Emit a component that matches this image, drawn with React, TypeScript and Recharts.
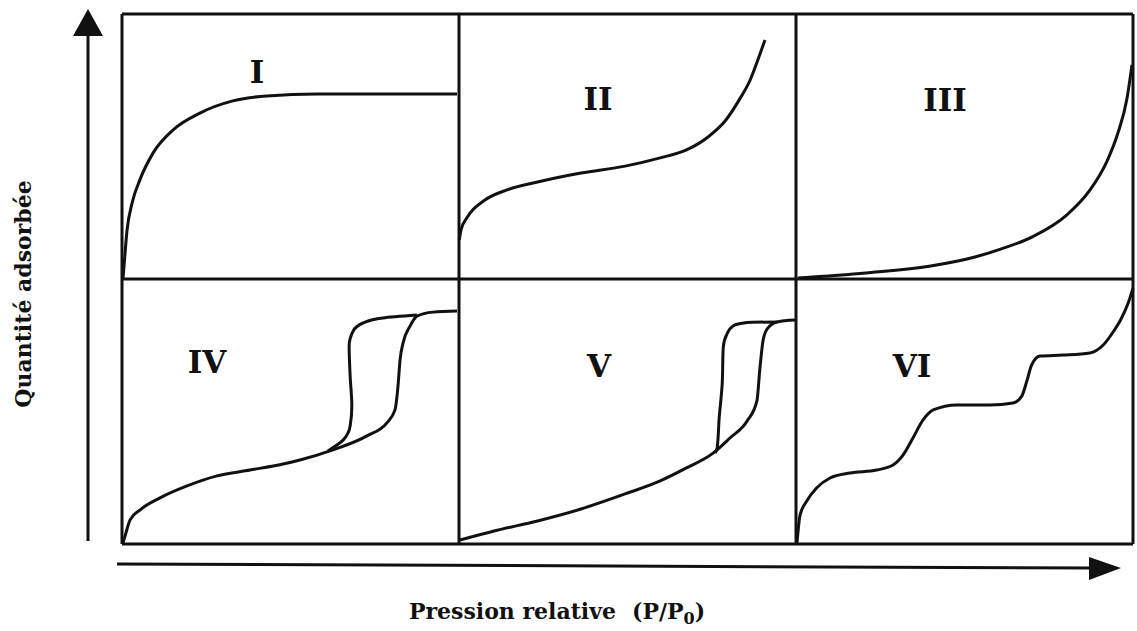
import { Line, LineChart, ReferenceLine, XAxis, YAxis } from 'recharts'

// each isotherm: [relative pressure, adsorbed amount], both 0..1
const typeI: [number, number][] = [
	[0.003, 0.004], [0.006, 0.049], [0.015, 0.185], [0.03, 0.287], [0.053, 0.374],
	[0.092, 0.475], [0.151, 0.562], [0.231, 0.626], [0.329, 0.672], [0.43, 0.691],
	[0.579, 0.698], [0.727, 0.698], [0.994, 0.698],
]

const typeII: [number, number][] = [
	[0.001, 0.147], [0.006, 0.185], [0.025, 0.234], [0.077, 0.298], [0.142, 0.336],
	[0.233, 0.366], [0.362, 0.4], [0.493, 0.426], [0.597, 0.457], [0.675, 0.487],
	[0.739, 0.536], [0.792, 0.6], [0.831, 0.675], [0.864, 0.751], [0.89, 0.838],
	[0.908, 0.902],
]

const typeIII: [number, number][] = [
	[0.006, 0.004], [0.208, 0.023], [0.404, 0.05], [0.531, 0.083], [0.605, 0.112],
	[0.703, 0.16], [0.804, 0.242], [0.872, 0.335], [0.923, 0.445], [0.955, 0.55],
	[0.982, 0.68], [0.997, 0.808],
]

const typeIVads: [number, number][] = [
	[0.003, 0.004], [0.009, 0.03], [0.024, 0.091], [0.053, 0.128], [0.113, 0.174],
	[0.193, 0.219], [0.282, 0.257], [0.38, 0.279], [0.478, 0.302], [0.528, 0.317],
	[0.626, 0.355], [0.727, 0.408], [0.786, 0.457], [0.81, 0.506], [0.819, 0.596],
	[0.825, 0.694], [0.834, 0.758], [0.855, 0.823], [0.875, 0.86], [0.923, 0.875],
	[0.994, 0.879],
]

const typeIVdes: [number, number][] = [
	[0.611, 0.351], [0.656, 0.392], [0.677, 0.445], [0.682, 0.521], [0.677, 0.634],
	[0.674, 0.747], [0.686, 0.804], [0.715, 0.834], [0.774, 0.853], [0.875, 0.864],
]

const typeVads: [number, number][] = [
	[0.003, 0.015], [0.104, 0.049], [0.233, 0.087], [0.362, 0.132], [0.493, 0.189],
	[0.597, 0.238], [0.675, 0.287], [0.754, 0.343], [0.804, 0.4], [0.855, 0.464],
	[0.884, 0.54], [0.893, 0.664], [0.902, 0.766], [0.914, 0.811], [0.944, 0.838],
	[0.997, 0.845],
]

const typeVdes: [number, number][] = [
	[0.76, 0.343], [0.766, 0.362], [0.772, 0.475], [0.781, 0.604], [0.784, 0.74],
	[0.795, 0.792], [0.813, 0.823], [0.855, 0.836], [0.944, 0.838],
]

const typeVI: [number, number][] = [
	[0.003, 0.004], [0.012, 0.109], [0.032, 0.162], [0.061, 0.211], [0.101, 0.249],
	[0.16, 0.268], [0.239, 0.279], [0.288, 0.298], [0.318, 0.336], [0.347, 0.4],
	[0.377, 0.468], [0.407, 0.506], [0.477, 0.525], [0.576, 0.525], [0.644, 0.532],
	[0.67, 0.558], [0.685, 0.615], [0.699, 0.675], [0.724, 0.709], [0.792, 0.713],
	[0.872, 0.721], [0.911, 0.75], [0.941, 0.8], [0.965, 0.85], [0.986, 0.91],
	[1.0, 0.966],
]

const panelNames = ['I', 'II', 'III', 'IV', 'V', 'VI']

// col/row place a curve in the 3 x 2 grid (row 1 = top)
const curves = [
	{ id: 'I', pts: typeI, col: 0, row: 1, kind: 'monotone' },
	{ id: 'II', pts: typeII, col: 1, row: 1, kind: 'monotone' },
	{ id: 'III', pts: typeIII, col: 2, row: 1, kind: 'monotone' },
	{ id: 'IVa', pts: typeIVads, col: 0, row: 0, kind: 'monotone' },
	{ id: 'IVd', pts: typeIVdes, col: 0, row: 0, kind: 'monotoneY' },
	{ id: 'Va', pts: typeVads, col: 1, row: 0, kind: 'monotone' },
	{ id: 'Vd', pts: typeVdes, col: 1, row: 0, kind: 'monotoneY' },
	{ id: 'VI', pts: typeVI, col: 2, row: 0, kind: 'monotone' },
]

const labelPos = [
	{ x: 257, y: 83 },
	{ x: 598, y: 110 },
	{ x: 945, y: 111 },
	{ x: 207, y: 373 },
	{ x: 599, y: 377 },
	{ x: 912, y: 377 },
]

const INK = '#111'

export default function App() {
	const series = curves.map(c => ({
		...c,
		data: c.pts.map(([x, y]) => ({ x: c.col + x, y: c.row + y })),
	}))

	return (
		<div
			style={{
				position: 'absolute',
				left: 0,
				top: 0,
				width: 1137,
				height: 631,
				background: '#fff',
				overflow: 'hidden',
			}}
		>
			<LineChart
				width={1137}
				height={631}
				margin={{ top: 14, right: 4, bottom: 87, left: 122 }}
			>
				<XAxis type='number' dataKey='x' domain={[0, 3]} hide />
				<YAxis type='number' domain={[0, 2]} hide />
				{[0, 1, 2, 3].map(v => (
					<ReferenceLine key={'v' + v} x={v} stroke={INK} strokeWidth={3} />
				))}
				{[0, 1, 2].map(h => (
					<ReferenceLine key={'h' + h} y={h} stroke={INK} strokeWidth={3} />
				))}
				{series.map(s => (
					<Line
						key={s.id}
						data={s.data}
						dataKey='y'
						type={s.kind as any}
						stroke={INK}
						strokeWidth={3}
						dot={false}
						activeDot={false}
						isAnimationActive={false}
					/>
				))}
			</LineChart>

			<svg
				width={1137}
				height={631}
				style={{ position: 'absolute', left: 0, top: 0, pointerEvents: 'none' }}
			>
				{/* axis arrows */}
				<line x1={88} y1={541} x2={88} y2={30} stroke={INK} strokeWidth={3} />
				<polygon points='88,9 73,36 103,36' fill={INK} />
				<line x1={117} y1={564} x2={1095} y2={568} stroke={INK} strokeWidth={3} />
				<polygon points='1121,568 1089,557 1089,580' fill={INK} />

				{panelNames.map((n, i) => (
					<text
						key={n}
						x={labelPos[i].x}
						y={labelPos[i].y}
						textAnchor='middle'
						fontFamily='DejaVu Serif'
						fontWeight='bold'
						fontSize={31}
						fill={INK}
					>
						{n}
					</text>
				))}

				<text
					transform='translate(31,294) rotate(-90)'
					textAnchor='middle'
					fontFamily='DejaVu Serif'
					fontWeight='bold'
					fontSize={22}
					fill={INK}
				>
					Quantité adsorbée
				</text>

				<text
					x={557}
					y={619}
					textAnchor='middle'
					fontFamily='DejaVu Serif'
					fontWeight='bold'
					fontSize={22}
					fill={INK}
				>
					Pression relative
					<tspan dx={16}>(P/P</tspan>
					<tspan dy={5} fontSize={16}>0</tspan>
					<tspan dy={-5}>)</tspan>
				</text>
			</svg>
		</div>
	)
}
